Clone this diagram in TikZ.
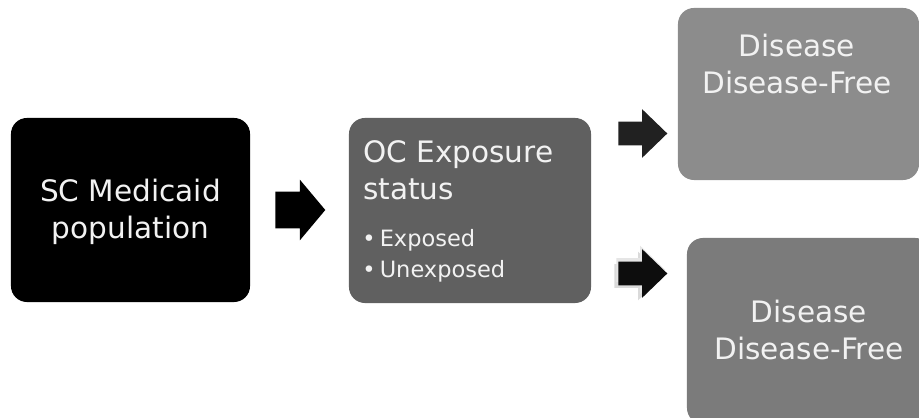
\documentclass[tikz,border=0pt]{standalone}
\usepackage{fontspec}
\setmainfont{DejaVu Sans}
\usetikzlibrary{shapes,arrows,positioning}
\definecolor{popfill}{HTML}{000000}
\definecolor{expfill}{HTML}{606060}
\definecolor{upfill}{HTML}{8C8C8C}
\definecolor{lowfill}{HTML}{7B7B7B}
\definecolor{boxtext}{HTML}{F2F2F2}
\definecolor{ghost}{HTML}{DADADA}
\tikzstyle{block} = [rectangle, rounded corners=0.4cm, inner sep=0pt]
\tikzstyle{txt} = [inner sep=0pt, text=boxtext, align=center, font=\fontsize{21}{26.5}\selectfont]
\tikzstyle{bullettxt} = [inner sep=0pt, text=boxtext, font=\fontsize{16}{22}\selectfont]
\tikzstyle{bigarrow} = [single arrow, fill=black, inner xsep=0pt, inner ysep=0.45cm, single arrow head extend=0.3cm, single arrow tip angle=100, minimum height=1.25cm]
\tikzstyle{smallarrow} = [single arrow, fill=black, inner xsep=0pt, inner ysep=0.2875cm, single arrow head extend=0.3125cm, single arrow tip angle=88, minimum height=1.225cm]

\begin{document}
\begin{tikzpicture}[x=0.025cm,y=-0.025cm]
    \useasboundingbox (0,0) rectangle (919,418);
    \clip (0,0) rectangle (919,418);
    \node [block, fill=popfill, minimum width=5.975cm, minimum height=4.6cm] (pop) at (130.5,210) {};
    \node [block, fill=expfill, minimum width=6.05cm, minimum height=4.625cm] (exp) at (470,210.5) {};
    \node [block, fill=upfill, minimum width=6.025cm, minimum height=4.3cm] (up) at (798.5,94) {};
    \node [block, fill=lowfill, minimum width=6.1cm, minimum height=4.65cm] (low) at (809,331) {};

    \node [txt] (popText) at (130.5,212) {SC Medicaid\\population};
    \node [txt, anchor=base west] (expTitle) at (363,163) {OC Exposure};
    \node [txt, anchor=base west] (expTitleB) at (363,200) {status};
    \node [bullettxt, anchor=base west] (expYes) at (362,247) {\textbullet\hspace{3pt}Exposed};
    \node [bullettxt, anchor=base west] (expNo) at (362,278) {\textbullet\hspace{3pt}Unexposed};
    \node [txt] (upText) at (797,64) {Disease\\Disease-Free};
    \node [txt] (lowText) at (809,330) {Disease\\Disease-Free};

    \node [bigarrow, anchor=tail] (toExp) at (275,210) {};
    \node [smallarrow, fill=black!87, anchor=tail] (toUp) at (618,133.5) {};
    % faint copies left behind the lower arrow
    \node [smallarrow, fill=ghost, anchor=tail, shape border rotate=18] (ghostA) at (614,276) {};
    \node [smallarrow, fill=ghost!70, anchor=tail, shape border rotate=-12] (ghostB) at (616,270) {};
    \node [smallarrow, fill=black!95, anchor=tail] (toLow) at (618,273.5) {};
\end{tikzpicture}
\end{document}
